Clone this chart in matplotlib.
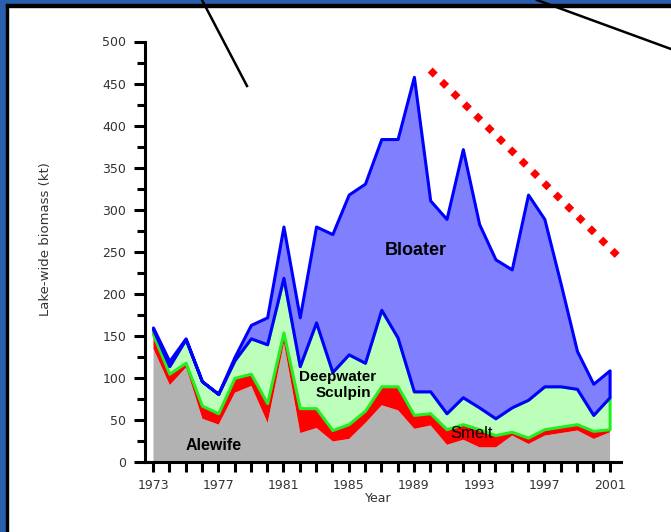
import matplotlib.pyplot as plt
from matplotlib.patches import Rectangle
from matplotlib.lines import Line2D
from matplotlib.ticker import MultipleLocator
import numpy as np

# lake-wide biomass (kt) by species
years = np.arange(1973, 2002)
alewife = [135, 92, 113, 52, 45, 83, 91, 47, 142, 35, 41, 25, 28, 47, 68,
           62, 40, 44, 21, 27, 18, 18, 32, 22, 32, 35, 38, 28, 36]
smelt = [17, 13, 5, 15, 13, 17, 14, 23, 12, 29, 23, 13, 17, 14, 22,
         28, 16, 14, 18, 18, 21, 14, 4, 7, 7, 7, 7, 9, 3]
sculpin = [6, 9, 28, 29, 23, 21, 42, 70, 65, 50, 102, 69, 83, 57, 91,
           58, 28, 26, 19, 32, 26, 20, 29, 45, 51, 48, 42, 19, 38]
bloater = [2, 6, 1, 0, 0, 4, 16, 32, 61, 58, 114, 164, 190, 213, 203,
           236, 374, 227, 231, 295, 218, 189, 164, 244, 199, 122, 45, 37, 32]

# dotted red decline line
trend_years = [1990.0, 2001.5]
trend_kt = [466, 245]

W, H = 671, 532
fig = plt.figure(figsize=(W / 100, H / 100), dpi=100)
ax = fig.add_axes([145 / W, 1 - 462 / H, (621 - 145) / W, (462 - 41.5) / H])

c1 = np.array(alewife)
c2 = c1 + np.array(smelt)
c3 = c2 + np.array(sculpin)
c4 = c3 + np.array(bloater)

ax.fill_between(years, 0, c1, color='#b2b2b2', lw=0)
ax.fill_between(years, c1, c2, color='#ff0000', lw=0)
ax.fill_between(years, c2, c3, facecolor='#bbffbb', edgecolor='#22ee22', lw=2.2)
ax.fill_between(years, c3, c4, facecolor='#8080ff', edgecolor='#0000ff', lw=2.2)

ax.plot(trend_years, trend_kt, color='#ff0000', lw=5.1, linestyle=(0, (1, 1.26)),
        dash_capstyle='butt', clip_on=False)

ax.set_xlim(1972.51, 2001.7)
ax.set_ylim(0, 500)
ax.set_xticks(range(1973, 2002, 4))
ax.xaxis.set_minor_locator(MultipleLocator(1))
ax.yaxis.set_major_locator(MultipleLocator(50))
ax.yaxis.set_minor_locator(MultipleLocator(25))

for s in ['top', 'right']:
    ax.spines[s].set_visible(False)
for s in ['left', 'bottom']:
    ax.spines[s].set_linewidth(2.2)

ax.tick_params(axis='x', which='both', length=7, width=2.2, pad=5,
               labelsize=9, labelcolor='#333333')
ax.tick_params(axis='y', which='major', length=8, width=2.2, pad=5.5,
               labelsize=9, labelcolor='#333333')
ax.tick_params(axis='y', which='minor', length=6, width=2.2)

lab = dict(ha='center', va='center', family=['Liberation Sans', 'DejaVu Sans'])
ax.text(1989.13, 251, 'Bloater', fontsize=13, fontweight='bold', **lab)
ax.text(1984.32, 101.4, 'Deepwater', fontsize=11, fontweight='bold', **lab)
ax.text(1984.66, 82.4, 'Sculpin', fontsize=11, fontweight='bold', **lab)
ax.text(1976.72, 20.2, 'Alewife', fontsize=11.5, fontweight='bold', **lab)
ax.text(1992.53, 34.1, 'Smelt', fontsize=12, **lab)

fig.text(45.7 / W, 1 - 239 / H, 'Lake-wide biomass (kt)', rotation=90,
         ha='center', va='center', fontsize=9.5, color='#333333')
fig.text(378 / W, 1 - 499 / H, 'Year', ha='center', va='center',
         fontsize=9, color='#333333')

# slide frame
blue = '#2a5fae'
fig.patches.append(Rectangle((0, 0), 6 / W, 1, color=blue, transform=fig.transFigure))
fig.patches.append(Rectangle((0, 1 - 4 / H), 1, 4 / H, color=blue, transform=fig.transFigure))
fig.patches.append(Rectangle((6 / W, 0), 2 / W, 1 - 4 / H, color='black', transform=fig.transFigure))
fig.patches.append(Rectangle((6 / W, 1 - 7 / H), 1, 3 / H, color='black', transform=fig.transFigure))

# callout lines
fig.lines.append(Line2D([202 / W, 247 / W], [1, 1 - 86 / H], color='black', lw=1.8,
                        transform=fig.transFigure))
fig.lines.append(Line2D([537 / W, 1], [1, 1 - 49 / H], color='black', lw=1.8,
                        transform=fig.transFigure))

fig.savefig('out.png', dpi=100)
